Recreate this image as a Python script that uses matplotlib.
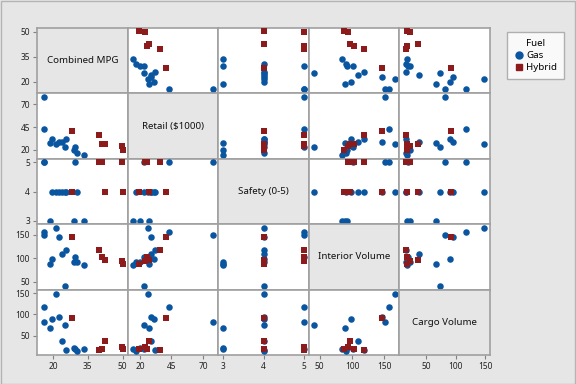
import numpy as np
import matplotlib
matplotlib.use("Agg")
import matplotlib.pyplot as plt
from matplotlib.lines import Line2D
from matplotlib.patches import Rectangle

plt.rcParams["font.family"] = ["Noto Sans", "DejaVu Sans"]

# variables in the matrix (diagonal labels)
var_names = ["Combined MPG", "Retail ($1000)", "Safety (0-5)", "Interior Volume", "Cargo Volume"]

# gas cars
gas_mpg = [16, 16, 18.5, 19.7, 21.5, 22.7, 24, 25, 25.7, 29.2, 29.7, 30.4, 33.4]
gas_retail = [78, 43, 27.5, 31.5, 26.6, 29, 28.5, 23, 32, 20, 23, 16.7, 14.6]
gas_safety = [5, 5, 3, 4, 4, 4, 4, 4, 4, 3, 5, 4, 3]
gas_interior = [151, 157, 89, 98, 165.7, 146.6, 108.5, 41, 119, 93, 102, 91.5, 85]
gas_cargo = [81, 118, 67, 90, 148, 94.7, 37, 74, 16, 22, 19, 15, 18]

# hybrid cars
hyb_mpg = [50.3, 49.6, 41.2, 42.5, 39.8, 28.2]
hyb_retail = [19.5, 24.2, 26, 27, 36, 40.5]
hyb_safety = [4, 5, 5, 4, 5, 4]
hyb_interior = [87.5, 94.5, 103.5, 97.5, 119, 146.6]
hyb_cargo = [18, 23, 18, 36.6, 16, 92]

ticks = [[20, 35, 50], [20, 45, 70], [3, 4, 5], [50, 100, 150], [50, 100, 150]]
limits = [(13.1, 52.2), (10.3, 82), (2.88, 5.12), (33.5, 173), (4.5, 158)]

gas = [gas_mpg, gas_retail, gas_safety, gas_interior, gas_cargo]
hyb = [hyb_mpg, hyb_retail, hyb_safety, hyb_interior, hyb_cargo]

bg = "#e6e6e6"
edge = "#a0a0a0"
gas_col = "#0a55a0"
hyb_col = "#8e1b1b"

fig, axes = plt.subplots(5, 5, figsize=(5.76, 3.84), dpi=100)
fig.patch.set_facecolor(bg)
fig.subplots_adjust(left=37 / 576, right=490 / 576, top=1 - 28 / 384,
                    bottom=1 - 355 / 384, wspace=0, hspace=0)

n = len(var_names)
for i in range(n):
    for j in range(n):
        ax = axes[i, j]
        ax.set_xlim(limits[j])
        ax.set_ylim(limits[i])
        ax.set_xticks(ticks[j])
        ax.set_yticks(ticks[i])
        for s in ax.spines.values():
            s.set_color(edge)
            s.set_linewidth(1.2)
        ax.tick_params(direction="out", length=3, width=0.8, color="#808080",
                       labelsize=6, pad=2, labelcolor="#222222")
        if i == j:
            ax.set_facecolor(bg)
            ax.text(0.5, 0.5, var_names[i], transform=ax.transAxes,
                    ha="center", va="center", fontsize=7, color="#111111")
        else:
            ax.set_facecolor("white")
            ax.scatter(gas[j], gas[i], s=22, marker="o", color=gas_col,
                       linewidths=0, zorder=3)
            ax.scatter(hyb[j], hyb[i], s=22, marker="s", color=hyb_col,
                       linewidths=0, zorder=4)
        if j != 0:
            ax.tick_params(axis="y", left=False, labelleft=False)
        if i != n - 1:
            ax.tick_params(axis="x", bottom=False, labelbottom=False)

handles = [
    Line2D([], [], marker="o", color=gas_col, linestyle="none", markersize=5),
    Line2D([], [], marker="s", color=hyb_col, linestyle="none", markersize=5),
]
leg = fig.legend(handles, ["Gas", "Hybrid"], title="Fuel",
                 loc="upper left", bbox_to_anchor=(502 / 576, 1 - 27 / 384),
                 fontsize=7, title_fontsize=7, frameon=True, fancybox=False,
                 edgecolor=edge, facecolor="white", handletextpad=0.3,
                 handlelength=1.0, borderpad=0.7, labelspacing=0.35)
leg.get_frame().set_linewidth(1.0)

# thin outer frame like the original export
fig.patches.append(Rectangle((0.001, 0.001), 0.998, 0.997, transform=fig.transFigure,
                             fill=False, edgecolor="#b4b4b4", linewidth=1))

plt.savefig("out.png", dpi=100, facecolor=bg)
